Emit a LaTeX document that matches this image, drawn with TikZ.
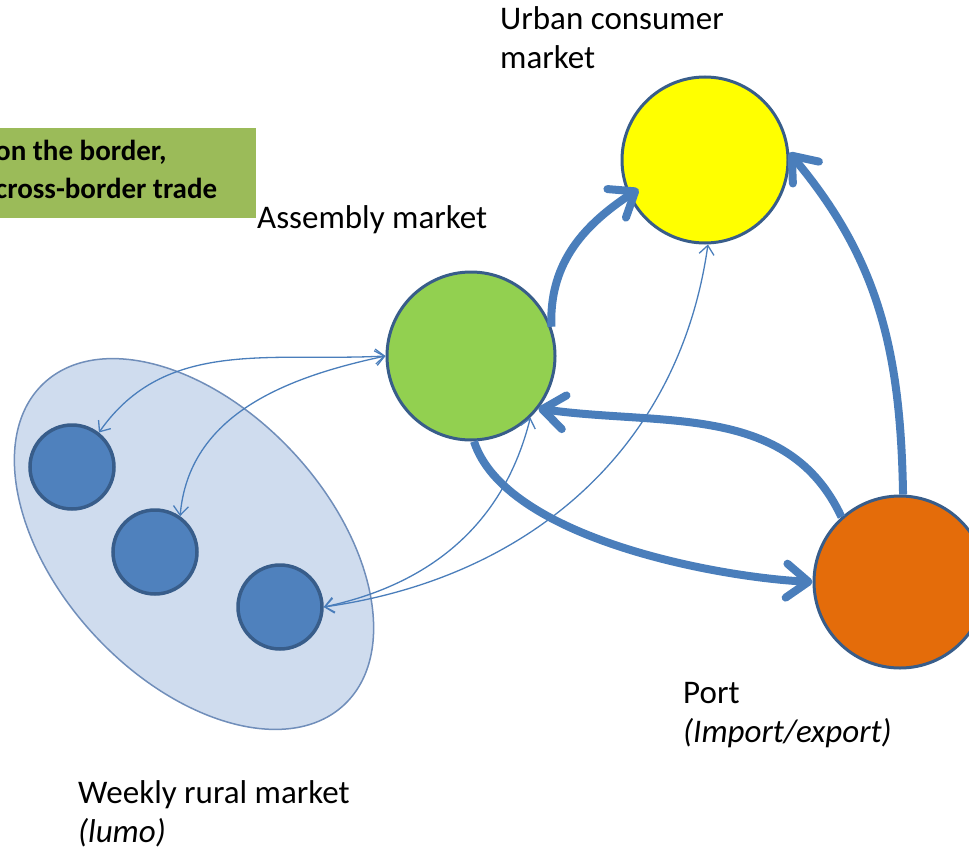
\documentclass[tikz,border=0pt]{standalone}
\usepackage{fontspec}
\setmainfont{Carlito}
\usetikzlibrary{arrows.meta}

\definecolor{flow}{RGB}{74,126,187}
\definecolor{rim}{RGB}{56,93,138}
\definecolor{assemblygreen}{RGB}{146,208,80}
\definecolor{urbanyellow}{RGB}{255,255,0}
\definecolor{portorange}{RGB}{228,108,10}
\definecolor{ruralblue}{RGB}{79,129,189}
\definecolor{lumofill}{RGB}{207,220,238}
\definecolor{lumorim}{RGB}{112,142,186}
\definecolor{boxgreen}{RGB}{155,187,89}

\begin{document}
\begin{tikzpicture}[x=1pt,y=1pt,
  market/.style={circle,draw=rim,line width=3pt,inner sep=0pt},
  bigflow/.style={draw=flow,line width=8pt,-{Straight Barb[round,length=22pt,width=34pt]}},
  smallflow/.style={draw=flow,line width=1.3pt,
    {Straight Barb[length=9pt,width=15pt]}-{Straight Barb[length=9pt,width=15pt]}},
  lbl/.style={inner sep=0pt,font=\fontsize{33}{39}\selectfont,align=left,anchor=base west}]
\useasboundingbox (0,0) rectangle (969,-851);
% border box, cut at the left edge
\path[fill=boxgreen] (-5,-128) rectangle (256,-218);
\node[lbl,font=\fontsize{29}{38}\bfseries] (border) at (-5,-198) {on the border,\\cross-border trade};
% weekly markets
\path[draw=lumorim,line width=1.5pt,fill=lumofill] (194,-544) ellipse[x radius=220,y radius=135,rotate=-47];
\node[market,fill=ruralblue,minimum size=84pt,line width=3.5pt] (rural1) at (72,-467) {};
\node[market,fill=ruralblue,minimum size=84pt,line width=3.5pt] (rural2) at (155,-552) {};
\node[market,fill=ruralblue,minimum size=84pt,line width=3.5pt] (rural3) at (280,-607) {};
% the three big markets
\node[market,fill=assemblygreen,minimum size=168pt] (assembly) at (471,-356) {};
\node[market,fill=urbanyellow,minimum size=166pt] (urban) at (705,-160) {};
\node[market,fill=portorange,minimum size=172pt] (port) at (900,-582) {};
% main flows
\draw[bigflow,shorten >=-12pt] (assembly.20) to[out=92,in=213] (urban.205);
\draw[bigflow] (port.88) to[out=91,in=-50] (urban.5);
\draw[bigflow] (port.132) to[out=115,in=-8] (assembly.-38);
\draw[bigflow] (assembly.-88) to[out=-72,in=177,looseness=0.7] (port.180);
% flows from the weekly markets
\draw[smallflow] (rural1.52) to[out=55,in=183] (assembly.180);
\draw[smallflow] (rural2.55) to[out=85,in=192] (assembly.180);
\draw[smallflow] (rural3.0) to[out=12,in=-104] (assembly.-46);
\draw[smallflow] (rural3.0) to[out=8,in=-98] (urban.-88);
% labels
\node[lbl] (urbanlbl) at (500,-68) {Urban consumer\\market};
\node[lbl] (assemblylbl) at (257,-228) {Assembly market};
\node[lbl] (portlbl) at (683,-742) {Port\\\textit{(Import/export)}};
\node[lbl] (rurallbl) at (78,-842) {Weekly rural market\\\textit{(lumo)}};
\end{tikzpicture}
\end{document}
